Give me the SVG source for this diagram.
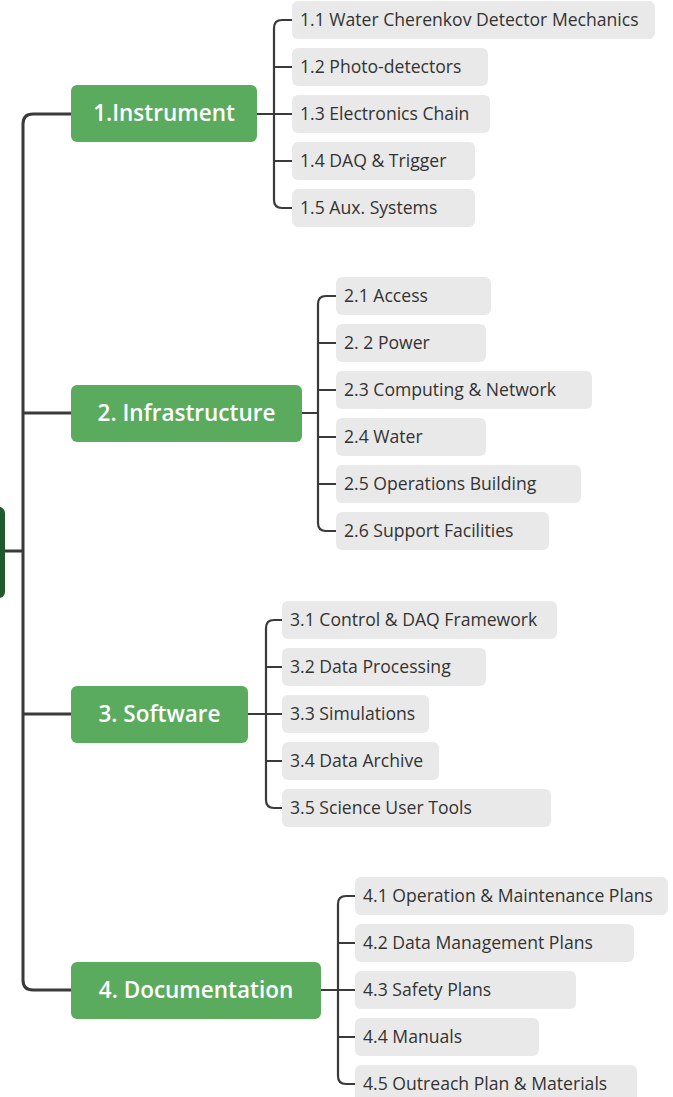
<svg xmlns="http://www.w3.org/2000/svg" width="673" height="1097" viewBox="0 0 673 1097">
<style>
.l1 rect{fill:#5bab5f}
.l1 text{fill:#ffffff;font-family:"Open Sans","Liberation Sans",sans-serif;font-size:22.5px;font-weight:600;text-anchor:middle}
.l2 rect{fill:#e9e9e9}
.l2 text{fill:#333333;font-family:"Open Sans","Liberation Sans",sans-serif;font-size:17.6px}
.c{fill:none;stroke:#3a3a3a;stroke-linecap:round;stroke-linejoin:round}
.m{stroke-width:3}
.b{stroke-width:2.2}
</style>
<rect width="673" height="1097" fill="#ffffff"/>
<g id="connectors">
<path class="c m" d="M71,114 H33 Q23,114 23,124 V980 Q23,990 33,990 H71 M23,413 H71 M23,714 H71 M5,551 H23"/>
<path class="c b" d="M257,114 H274 M292,20 H282 Q274,20 274,28 V200 Q274,208 282,208 H292 M274,67 H292 M274,114 H292 M274,161 H292"/>
<path class="c b" d="M302,413 H318 M336,296 H326 Q318,296 318,304 V523 Q318,531 326,531 H336 M318,343 H336 M318,390 H336 M318,437 H336 M318,484 H336"/>
<path class="c b" d="M248,714 H266 M282,620 H274 Q266,620 266,628 V800 Q266,808 274,808 H282 M266,667 H282 M266,714 H282 M266,761 H282"/>
<path class="c b" d="M321,990 H338 M355,896 H346 Q338,896 338,904 V1076 Q338,1084 346,1084 H355 M338,943 H355 M338,990 H355 M338,1037 H355"/>
</g>
<g id="root"><rect x="-20" y="507" width="25" height="91" rx="6" fill="#1f5a2b"/></g>
<g id="n1" class="l1"><rect x="71" y="85" width="186" height="57" rx="6"/><text x="164" y="121">1.Instrument</text></g>
<g id="n2" class="l1"><rect x="71" y="385" width="231" height="57" rx="6"/><text x="186.5" y="421">2. Infrastructure</text></g>
<g id="n3" class="l1"><rect x="71" y="686" width="177" height="57" rx="6"/><text x="159.5" y="722">3. Software</text></g>
<g id="n4" class="l1"><rect x="71" y="962" width="250" height="57" rx="6"/><text x="196" y="998">4. Documentation</text></g>
<g id="n1-1" class="l2"><rect x="292" y="1" width="363" height="38" rx="6"/><text x="300" y="26">1.1 Water Cherenkov Detector Mechanics</text></g>
<g id="n1-2" class="l2"><rect x="292" y="48" width="196" height="38" rx="6"/><text x="300" y="73">1.2 Photo-detectors</text></g>
<g id="n1-3" class="l2"><rect x="292" y="95" width="198" height="38" rx="6"/><text x="300" y="120">1.3 Electronics Chain</text></g>
<g id="n1-4" class="l2"><rect x="292" y="142" width="183" height="38" rx="6"/><text x="300" y="167">1.4 DAQ &amp; Trigger</text></g>
<g id="n1-5" class="l2"><rect x="292" y="189" width="183" height="38" rx="6"/><text x="300" y="214">1.5 Aux. Systems</text></g>
<g id="n2-1" class="l2"><rect x="336" y="277" width="155" height="38" rx="6"/><text x="344" y="302">2.1 Access</text></g>
<g id="n2-2" class="l2"><rect x="336" y="324" width="150" height="38" rx="6"/><text x="344" y="349">2. 2 Power</text></g>
<g id="n2-3" class="l2"><rect x="336" y="371" width="256" height="38" rx="6"/><text x="344" y="396">2.3 Computing &amp; Network</text></g>
<g id="n2-4" class="l2"><rect x="336" y="418" width="150" height="38" rx="6"/><text x="344" y="443">2.4 Water</text></g>
<g id="n2-5" class="l2"><rect x="336" y="465" width="245" height="38" rx="6"/><text x="344" y="490">2.5 Operations Building</text></g>
<g id="n2-6" class="l2"><rect x="336" y="512" width="213" height="38" rx="6"/><text x="344" y="537">2.6 Support Facilities</text></g>
<g id="n3-1" class="l2"><rect x="282" y="601" width="275" height="38" rx="6"/><text x="290" y="626">3.1 Control &amp; DAQ Framework</text></g>
<g id="n3-2" class="l2"><rect x="282" y="648" width="204" height="38" rx="6"/><text x="290" y="673">3.2 Data Processing</text></g>
<g id="n3-3" class="l2"><rect x="282" y="695" width="147" height="38" rx="6"/><text x="290" y="720">3.3 Simulations</text></g>
<g id="n3-4" class="l2"><rect x="282" y="742" width="157" height="38" rx="6"/><text x="290" y="767">3.4 Data Archive</text></g>
<g id="n3-5" class="l2"><rect x="282" y="789" width="269" height="38" rx="6"/><text x="290" y="814">3.5 Science User Tools</text></g>
<g id="n4-1" class="l2"><rect x="355" y="877" width="313" height="38" rx="6"/><text x="363" y="902">4.1 Operation &amp; Maintenance Plans</text></g>
<g id="n4-2" class="l2"><rect x="355" y="924" width="279" height="38" rx="6"/><text x="363" y="949">4.2 Data Management Plans</text></g>
<g id="n4-3" class="l2"><rect x="355" y="971" width="221" height="38" rx="6"/><text x="363" y="996">4.3 Safety Plans</text></g>
<g id="n4-4" class="l2"><rect x="355" y="1018" width="184" height="38" rx="6"/><text x="363" y="1043">4.4 Manuals</text></g>
<g id="n4-5" class="l2"><rect x="355" y="1065" width="282" height="38" rx="6"/><text x="363" y="1090">4.5 Outreach Plan &amp; Materials</text></g>
</svg>
